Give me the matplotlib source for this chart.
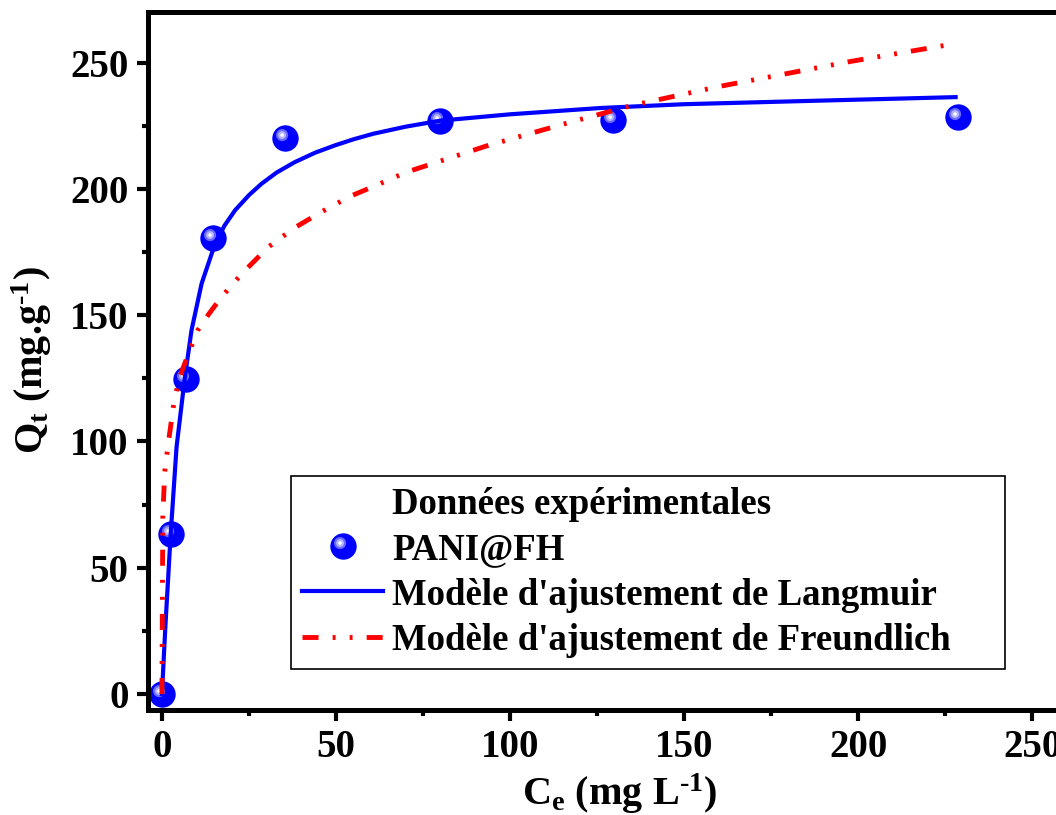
import numpy as np
import matplotlib
matplotlib.use("Agg")
import matplotlib.pyplot as plt
from matplotlib.path import Path
from matplotlib.lines import Line2D
from matplotlib.legend_handler import HandlerTuple

plt.rcParams['font.family'] = ['Liberation Serif', 'DejaVu Serif']
plt.rcParams['font.weight'] = 'bold'
plt.rcParams['axes.labelweight'] = 'bold'
plt.rcParams['mathtext.fontset'] = 'custom'
plt.rcParams['mathtext.rm'] = 'Liberation Serif:bold'
plt.rcParams['mathtext.bf'] = 'Liberation Serif:bold'
plt.rcParams['mathtext.it'] = 'Liberation Serif:bold'
plt.rcParams['mathtext.default'] = 'bf'

# experimental points (PANI@FH)
ce_exp = [0, 2.5, 6.9, 14.7, 35.3, 79.9, 129.6, 228.7]
qt_exp = [0, 63.3, 124.6, 180.4, 220.0, 226.7, 227.4, 228.6]

# Langmuir fit curve
ce_lang = [0, 1, 2.5, 4.2, 6.6, 8.5, 11.4, 15.2, 18, 21, 25, 28.6, 33, 38.2,
           44, 49.7, 55, 60.7, 70, 80, 100, 126, 150, 183, 228]
qt_lang = [0, 27, 63, 97.8, 125.5, 144, 162.5, 178, 185.5, 191.5, 197.5, 202,
           206.5, 210.6, 214.3, 217.2, 219.6, 221.8, 224.6, 227, 229.5, 232,
           233.5, 234.7, 236.3]

# Freundlich fit curve
ce_freu = [0, 0.25, 0.8, 1.8, 3.5, 5.1, 7.6, 10.3, 13.5, 17, 23, 30.6, 38, 46,
           54, 62.6, 70, 80, 93.3, 115, 135, 160, 197.7, 228]
qt_freu = [0, 70, 88, 99, 116, 125.5, 134.7, 144, 150.5, 157, 166.5, 177,
           184.5, 191, 197, 202, 206.5, 211, 217, 225.5, 233, 240.5, 250.4,
           257.5]

labels = ["Données expérimentales", "PANI@FH",
          "Modèle d'ajustement de Langmuir",
          "Modèle d'ajustement de Freundlich"]


def spot(r, dx, dy):
    # circle marker offset inside a unit box so it sits on the big ball
    c = Path.circle((dx, dy), r)
    verts = np.vstack([[1.0, 0.0], c.vertices])
    codes = np.concatenate([[Path.MOVETO], c.codes])
    return Path(verts, codes)


fig = plt.figure(figsize=(10.56, 8.15), dpi=100)
ax = fig.add_axes([148 / 1056, 1 - 710 / 815, (1067 - 148) / 1056, 698 / 815])

ms = 19
ball = ax.plot(ce_exp, qt_exp, ls='none', marker='o', ms=ms, color='#0000ff',
               mew=0, zorder=2)[0]
h1 = ax.plot(ce_exp, qt_exp, ls='none', marker=spot(0.46, -0.26, 0.26), ms=ms,
             color='#6a6aff', mew=0, zorder=2)[0]
h2 = ax.plot(ce_exp, qt_exp, ls='none', marker=spot(0.30, -0.26, 0.26), ms=ms,
             color='#b4b4ff', mew=0, zorder=2)[0]
h3 = ax.plot(ce_exp, qt_exp, ls='none', marker=spot(0.13, -0.26, 0.26), ms=ms,
             color='white', mew=0, zorder=2)[0]

lang, = ax.plot(ce_lang, qt_lang, color='#0000ff', lw=3, zorder=3)
freu, = ax.plot(ce_freu, qt_freu, color='#ff0000', lw=3.5, zorder=3,
                ls=(0, (3.3, 2.9, 0.6, 2.9, 0.6, 2.9)), dash_capstyle='butt')

ax.set_xlim(-4, 260)
ax.set_ylim(-6.3, 270)
ax.set_xticks([0, 50, 100, 150, 200, 250])
ax.set_xticks(np.arange(25, 260, 50), minor=True)
ax.set_yticks([0, 50, 100, 150, 200, 250])
ax.set_yticks(np.arange(25, 270, 50), minor=True)
ax.tick_params(which='major', direction='out', length=8, width=3, labelsize=28, pad=6)
ax.tick_params(which='minor', direction='out', length=4, width=3)
ax.tick_params(top=False, right=False)
for s in ax.spines.values():
    s.set_linewidth(3.6)

ax.set_xlabel("$C_e$ (mg L$^{\u2010 1}$)", fontsize=29, fontweight='bold')
ax.set_ylabel("$Q_t$ (mg.g$^{\u2010 1}$)", fontsize=29, fontweight='bold')
ax.xaxis.set_label_coords(0.5136, -0.088)
ax.yaxis.set_label_coords(-0.102, 0.501)

blank = Line2D([], [], ls='none')
leg = ax.legend([blank, (ball, h1, h2, h3), lang, freu], labels,
                handler_map={tuple: HandlerTuple(ndivide=1, pad=0)},
                loc='upper left', bbox_to_anchor=(0.1556, 0.0, 0.777, 0.335),
                mode='expand', borderaxespad=0, fancybox=False,
                edgecolor='black', framealpha=1, fontsize=26.5,
                handlelength=2.2, handletextpad=0.25, labelspacing=0.28,
                borderpad=0.3, numpoints=1, handleheight=0.8)
leg.get_frame().set_linewidth(1.2)

fig.savefig("out.png", dpi=100)
